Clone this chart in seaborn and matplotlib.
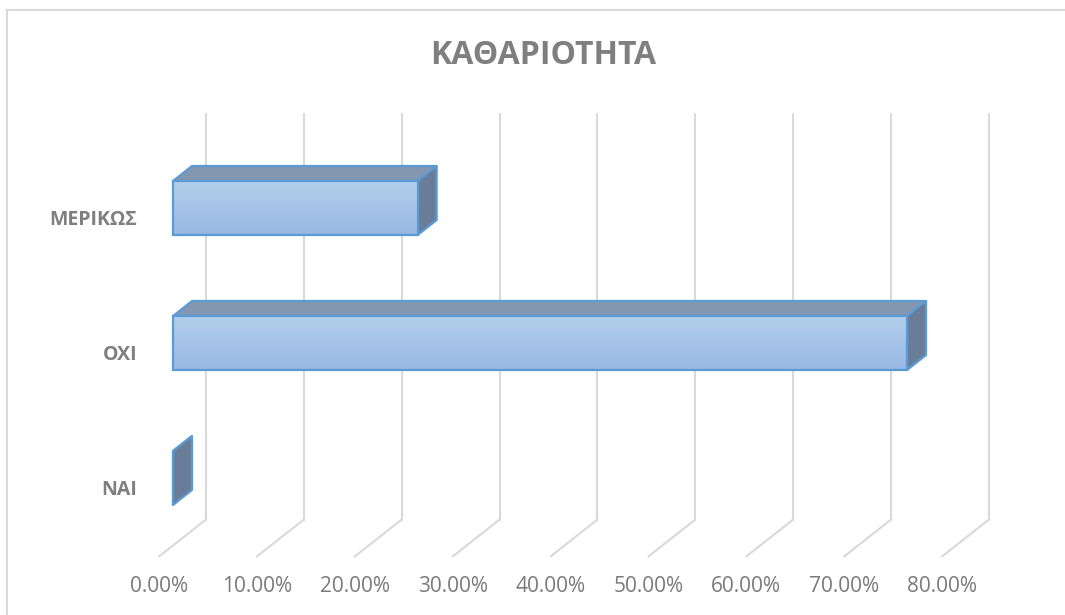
import matplotlib
matplotlib.use("Agg")
import matplotlib.pyplot as plt
import numpy as np
import pandas as pd
import seaborn as sns
from matplotlib.patches import Polygon, Rectangle

categories = ["ΜΕΡΙΚΩΣ", "ΟΧΙ", "ΝΑΙ"]
shares = [25.0, 75.0, 0.0]
tick_values = [0, 10, 20, 30, 40, 50, 60, 70, 80]
tick_labels = [f"{v:.2f}%" for v in tick_values]
title = "ΚΑΘΑΡΙΟΤΗΤΑ"

sns.set_theme(style="white")
plt.rcParams["font.family"] = ["Open Sans", "DejaVu Sans"]

DPI = 100
W, H = 1065, 615
fig = plt.figure(figsize=(W / DPI, H / DPI), dpi=DPI)
# plot area: pixel x 140..1000, pixel y 100..560
ax = fig.add_axes([140 / W, (H - 560) / H, 860 / W, 460 / H])
XLIM = (-33 / 9.787, -33 / 9.787 + 860 / 9.787)
YLIM = (2 + (560 - 478) / 135, -(208 - 100) / 135)

frame = pd.DataFrame({"category": categories, "share": shares})
sns.barplot(frame, x="share", y="category", orient="h", width=0.4,
            color="#a7c5ea", edgecolor="#5b9bd5", linewidth=1.6, ax=ax, zorder=5)
ax.set_xlim(*XLIM)
ax.set_ylim(*YLIM)
ax.axis("off")

to_disp = ax.transData.transform
to_data = ax.transData.inverted().transform


def shifted(points, dx, dy):
    disp = to_disp(np.asarray(points, dtype=float))
    disp[:, 0] += dx
    disp[:, 1] += dy
    return to_data(disp)


# back wall gridlines, floor diagonals and value labels
grid_color = "#d9d9d9"
label_shift = matplotlib.transforms.ScaledTranslation(0, -0.19, fig.dpi_scale_trans)
for t, lab in zip(tick_values, tick_labels):
    wall = shifted([(t, -0.5), (t, 2.5)], 33, 26)
    ax.plot(wall[:, 0], wall[:, 1], color=grid_color, lw=1.5, zorder=1)
    back = shifted([(t, 2.5)], 33, 26)[0]
    front = shifted([(t, 2.5)], -14, -11)[0]
    ax.plot([back[0], front[0]], [back[1], front[1]], color=grid_color, lw=1.5, zorder=1)
    ax.text(front[0], front[1], lab, ha="center", va="top", fontsize=15,
            color="#7a7a7a", transform=ax.transData + label_shift)

# 3D faces and gradient for each bar
DX, DY = 19, 15
gradient = np.linspace(0, 1, 100).reshape(-1, 1)
cmap = matplotlib.colors.LinearSegmentedColormap.from_list("front", ["#b3cfec", "#97b8e3"])
for bar in list(ax.patches):
    x0, y0 = bar.get_x(), bar.get_y()
    w, h = bar.get_width(), bar.get_height()
    x1 = x0 + w
    ytop, ybot = y0, y0 + h
    top_face = [(x0, ytop), (x1, ytop)] + list(map(tuple, shifted([(x1, ytop), (x0, ytop)], DX, DY)))
    side_face = [(x1, ytop), (x1, ybot)] + list(map(tuple, shifted([(x1, ybot), (x1, ytop)], DX, DY)))
    ax.add_patch(Polygon(top_face, closed=True, facecolor="#8497b0", edgecolor="#5b9bd5",
                         lw=1.6, joinstyle="round", zorder=4))
    ax.add_patch(Polygon(side_face, closed=True, facecolor="#697d98", edgecolor="#5b9bd5",
                         lw=1.6, joinstyle="round", zorder=4))
    if w > 0:
        img = ax.imshow(gradient, cmap=cmap, aspect="auto", extent=(x0, x1, ybot, ytop),
                        zorder=5.5, interpolation="bilinear")
        img.set_clip_path(bar)
        bar.set_facecolor("none")
        bar.set_zorder(6)

ax.set_xlim(*XLIM)
ax.set_ylim(*YLIM)

# category labels
cat_shift = matplotlib.transforms.ScaledTranslation(0, -0.12, fig.dpi_scale_trans)
for i, name in enumerate(categories):
    ax.text(-36 / 9.787, i, name, ha="right", va="center", fontsize=14, fontweight="bold",
            color="#7f7f7f", transform=ax.transData + cat_shift)

fig.text(543 / W, 1 - 55 / H, title, ha="center", va="center", fontsize=23,
         fontweight="bold", color="#7f7f7f")

fig.add_artist(Rectangle((7 / W, -0.1), 1.2, 1 - 10 / H + 0.1, transform=fig.transFigure,
                         fill=False, edgecolor="#d9d9d9", lw=1.5))

fig.savefig("out.png", dpi=DPI)
